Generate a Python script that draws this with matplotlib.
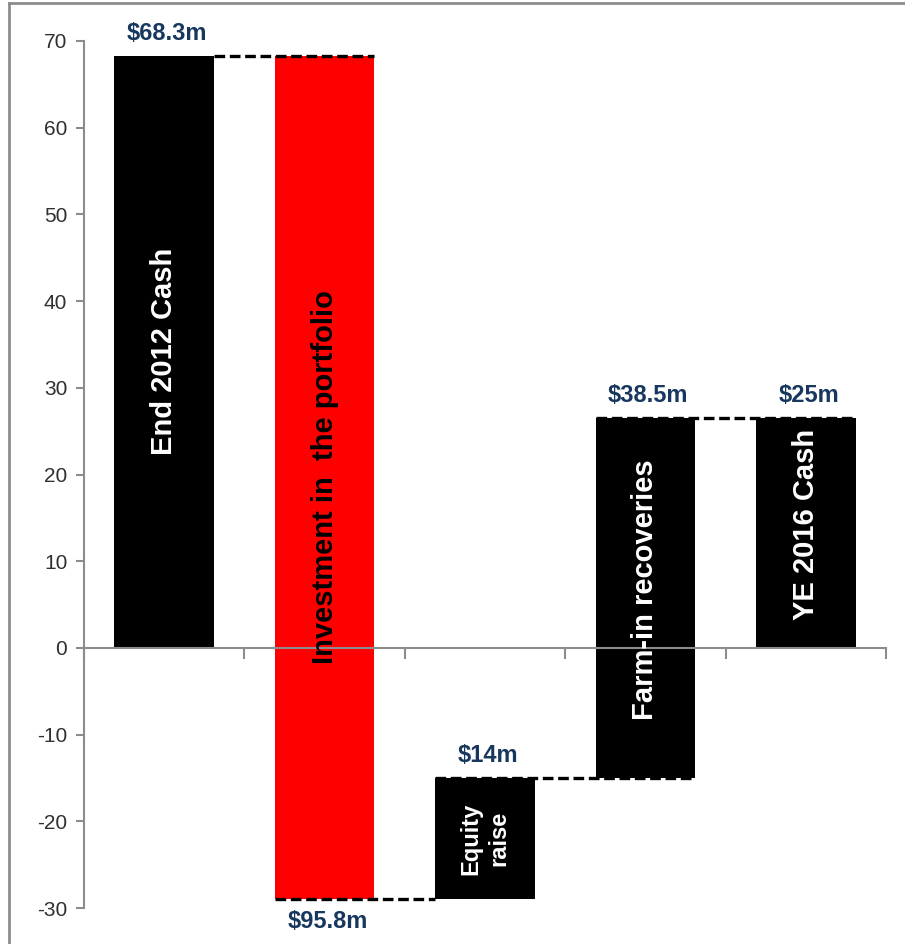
import numpy as np
import matplotlib
matplotlib.use('Agg')
import matplotlib.pyplot as plt
from matplotlib.lines import Line2D

plt.rcParams['font.family'] = ['Liberation Sans', 'DejaVu Sans']
plt.rcParams['axes.unicode_minus'] = False

# Waterfall values
categories = ['End 2012 Cash', 'Investment in  the portfolio', 'Equity\nraise',
              'Farm-in recoveries', 'YE 2016 Cash']
bar_bottom = [0, -29, -29, -15, 0]
bar_top = [68.3, 68.3, -15, 26.5, 26.5]
bar_colors = ['black', '#ff0000', 'black', 'black', 'black']
text_colors = ['white', 'black', 'white', 'white', 'white']
value_labels = ['$68.3m', '$95.8m', '$14m', '$38.5m', '$25m']
label_above = [True, False, True, True, True]

fig = plt.figure(figsize=(9.05, 9.44), dpi=100)
ax = fig.add_axes([84 / 905, 1 - 908 / 944, (886 - 84) / 905, (908 - 41) / 944])

x = np.arange(len(categories))
width = 0.62
bottom = np.array(bar_bottom)
top = np.array(bar_top)
ax.bar(x, top - bottom, bottom=bottom, width=width, color=bar_colors, zorder=2)

# connector lines
dash = (0, (3.2, 1.4))
for i in range(len(x) - 1):
    if i == 0:
        x0, x1, y = x[0] + width / 2, x[1] + width / 2, top[0]
    elif i == 1:
        x0, x1, y = x[1] - width / 2, x[2] - width / 2, bottom[1]
    elif i == 2:
        x0, x1, y = x[2] - width / 2, x[3] + width / 2, bottom[3]
    else:
        x0, x1, y = x[3] - width / 2, x[4] + width / 2, top[3]
    ax.plot([x0, x1], [y, y], color='black', lw=2.4, linestyle=dash, zorder=3)

# category labels inside bars
for i, name in enumerate(categories):
    mid = (bottom[i] + top[i]) / 2
    if '\n' in name:
        size = 17
    else:
        size = 21
        if i >= 3:
            mid += 1
    ax.text(x[i], mid, name, rotation=90, ha='center', va='center',
            color=text_colors[i], fontsize=size, fontweight='bold', zorder=4,
            linespacing=1.25)

# value labels
for i, lab in enumerate(value_labels):
    if label_above[i]:
        ax.annotate(lab, (x[i], top[i]), xytext=(2, 8), textcoords='offset points',
                    ha='center', va='bottom', color='#17375e', fontsize=17,
                    fontweight='bold')
    else:
        ax.annotate(lab, (x[i], bottom[i]), xytext=(2, -8), textcoords='offset points',
                    ha='center', va='top', color='#17375e', fontsize=17,
                    fontweight='bold')

ax.set_xlim(-0.5, 4.5)
ax.set_ylim(-30, 70)
ax.set_yticks(np.arange(-30, 71, 10))
ax.set_xticks(np.arange(-0.5, 4.6, 1))
ax.set_xticklabels([])
for s in ['top', 'right']:
    ax.spines[s].set_visible(False)
ax.spines['bottom'].set_position(('data', 0))
ax.spines['bottom'].set_color('#8c8c8c')
ax.spines['left'].set_color('#8c8c8c')
ax.spines['bottom'].set_linewidth(1.5)
ax.spines['left'].set_linewidth(1.5)
ax.tick_params(axis='y', direction='out', length=6, width=1.5, color='#8c8c8c',
               labelsize=15, labelcolor='#303030', pad=6)
ax.tick_params(axis='x', direction='out', length=8, width=1.5, color='#8c8c8c')

# outer frame (top and left edges)
fig.add_artist(Line2D([9 / 905, 9 / 905], [0, 1 - 3 / 944], color='#8c8c8c', lw=2))
fig.add_artist(Line2D([9 / 905, 1], [1 - 3 / 944, 1 - 3 / 944], color='#8c8c8c', lw=2))

fig.savefig('out.png', dpi=100)
